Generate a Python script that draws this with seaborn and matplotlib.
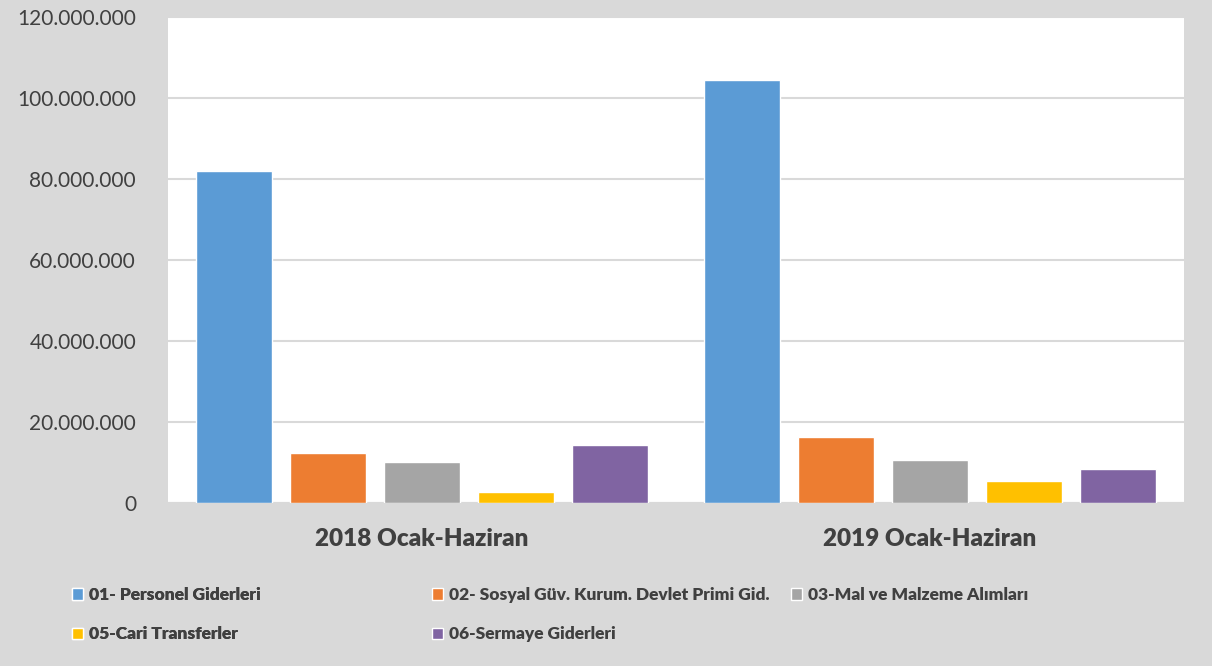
import matplotlib.pyplot as plt
import matplotlib.ticker as mticker
import pandas as pd
import seaborn as sns

donemler = ['2018 Ocak-Haziran', '2019 Ocak-Haziran']
kalemler = ['01- Personel Giderleri',
            '02- Sosyal Güv. Kurum. Devlet Primi Gid.',
            '03-Mal ve Malzeme Alımları',
            '05-Cari Transferler',
            '06-Sermaye Giderleri']
harcama_2018 = [82000000, 12300000, 10100000, 2800000, 14300000]
harcama_2019 = [104400000, 16300000, 10600000, 5400000, 8400000]
renkler = ['#5b9bd5', '#ed7d31', '#a5a5a5', '#ffc000', '#8064a2']

rows = []
for donem, degerler in zip(donemler, [harcama_2018, harcama_2019]):
    for kalem, deger in zip(kalemler, degerler):
        rows.append({'donem': donem, 'kalem': kalem, 'tutar': deger})
df = pd.DataFrame(rows)

sns.set_style('white')
plt.rcParams['font.family'] = ['Lato', 'DejaVu Sans']

bg = '#d9d9d9'
fig = plt.figure(figsize=(12.12, 6.66), dpi=100, facecolor=bg)
ax = fig.add_axes([168 / 1212, 1 - 503 / 666, (1184 - 168) / 1212, (503 - 17) / 666])
ax.set_facecolor('white')

sns.barplot(data=df, x='donem', y='tutar', hue='kalem', palette=renkler,
            width=0.925, gap=0.2, ax=ax, legend=True, saturation=1)

ax.set_xlim(-0.5, 1.5)
ax.set_ylim(0, 120000000)
ax.set_yticks(range(0, 120000001, 20000000))
ax.yaxis.set_major_formatter(mticker.FuncFormatter(lambda v, p: f'{v:,.0f}'.replace(',', '.')))
ax.set_xticks(range(len(donemler)), donemler, fontweight='heavy', fontsize=17.5)
ax.grid(axis='y', color='#d9d9d9', linewidth=1.5)
ax.set_axisbelow(True)
for s in ax.spines.values():
    s.set_visible(False)
ax.axhline(0, color='#d9d9d9', linewidth=1.5, zorder=0.5)
ax.tick_params(axis='y', length=0, pad=23, labelsize=15, labelcolor='#404040')
ax.tick_params(axis='x', length=0, pad=18, labelcolor='#404040')
ax.set_xlabel('')
ax.set_ylabel('')

handles, labels = ax.get_legend_handles_labels()
ax.get_legend().remove()
ortak = dict(frameon=False, handlelength=0.65, handleheight=0.65, handletextpad=0.35,
             labelspacing=1.35, prop={'weight': 'heavy', 'size': 12.5}, labelcolor='#404040',
             borderaxespad=0, borderpad=0)
leg1 = fig.legend([handles[0], handles[3]], [labels[0], labels[3]], ncol=1,
                  loc='upper left', bbox_to_anchor=(72 / 1212, 1 - 587 / 666), **ortak)
leg2 = fig.legend([handles[1], handles[4], handles[2]], [labels[1], labels[4], labels[2]], ncol=2,
                  loc='upper left', bbox_to_anchor=(432 / 1212, 1 - 587 / 666),
                  columnspacing=1.2, **ortak)
fig.add_artist(leg1)

plt.savefig('out.png', dpi=100, facecolor=bg)
